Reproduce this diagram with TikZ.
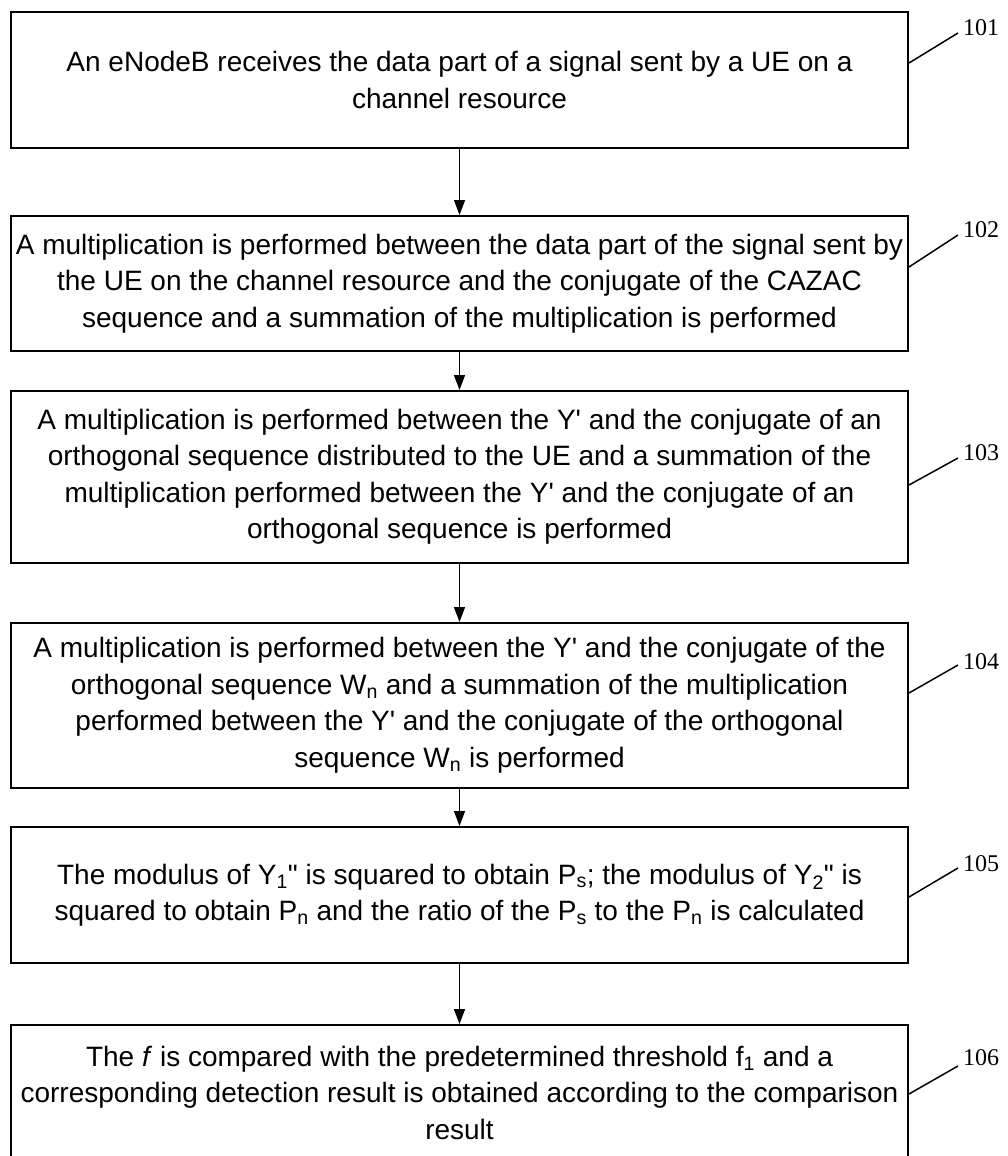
\documentclass[tikz,border=0pt]{standalone}
\usepackage{fontspec}
\setmainfont{Liberation Sans}
\newfontfamily\labfont{Liberation Serif}
\usetikzlibrary{arrows.meta}
\tikzset{
  stepbox/.style={draw, line width=2pt, minimum width=897pt, align=center, inner sep=0pt,
    font=\fontsize{28}{36.5}\selectfont},
  flow/.style={line width=1.5pt, -{Triangle[length=15pt,width=11pt]}},
  lead/.style={line width=1.5pt},
  lab/.style={anchor=west, inner sep=0pt, font=\labfont\fontsize{24}{24}\selectfont}
}
\newcommand{\q}{\textquotesingle}
\newcommand{\qq}{\textquotedbl}
\begin{document}
\begin{tikzpicture}[x=1pt,y=-1pt]
\useasboundingbox[fill=white] (0,0) rectangle (1008,1156);
\node[stepbox, minimum height=136pt] (b1) at (459.5,80) {An eNodeB receives the data part of a signal sent by a UE on a\\ channel resource};
\node[stepbox, minimum height=135pt] (b2) at (459.5,283.5) {A multiplication is performed between the data part of the signal sent by\\ the UE on the channel resource and the conjugate of the CAZAC\\ sequence and a summation of the multiplication is performed};
\node[stepbox, minimum height=172pt] (b3) at (459.5,477) {A multiplication is performed between the Y\q{} and the conjugate of an\\ orthogonal sequence distributed to the UE and a summation of the\\ multiplication performed between the Y\q{} and the conjugate of an\\ orthogonal sequence is performed};
\node[stepbox, minimum height=165pt] (b4) at (459.5,705.5) {A multiplication is performed between the Y\q{} and the conjugate of the\\ orthogonal sequence W\textsubscript{n} and a summation of the multiplication\\ performed between the Y\q{} and the conjugate of the orthogonal\\ sequence W\textsubscript{n} is performed};
\node[stepbox, minimum height=136pt] (b5) at (459.5,895) {The modulus of Y\textsubscript{1}\qq{} is squared to obtain P\textsubscript{s}; the modulus of Y\textsubscript{2}\qq{} is\\ squared to obtain P\textsubscript{n} and the ratio of the P\textsubscript{s} to the P\textsubscript{n} is calculated};
\node[stepbox, minimum height=135pt] (b6) at (459.5,1092.5) {The \textit{f} is compared with the predetermined threshold f\textsubscript{1} and a\\ corresponding detection result is obtained according to the comparison\\ result};
\draw[flow] (b1) -- (b2);
\draw[flow] (b2) -- (b3);
\draw[flow] (b3) -- (b4);
\draw[flow] (b4) -- (b5);
\draw[flow] (b5) -- (b6);
\node[lab] (n101) at (963,28) {101};
\node[lab] (n102) at (963,230) {102};
\node[lab] (n103) at (963,453) {103};
\node[lab] (n104) at (963,662) {104};
\node[lab] (n105) at (963,864) {105};
\node[lab] (n106) at (963,1058) {106};
\coordinate (t101) at (958,33);
\coordinate (t102) at (958,235);
\coordinate (t103) at (958,458);
\coordinate (t104) at (958,665);
\coordinate (t105) at (958,868);
\coordinate (t106) at (958,1066);
\draw[lead] ([yshift=17pt]b1.east) -- (t101);
\draw[lead] ([yshift=16.5pt]b2.east) -- (t102);
\draw[lead] ([yshift=-8pt]b3.east) -- (t103);
\draw[lead] ([yshift=12.5pt]b4.east) -- (t104);
\draw[lead] ([yshift=-2pt]b5.east) -- (t105);
\draw[lead] ([yshift=-1.5pt]b6.east) -- (t106);
\end{tikzpicture}
\end{document}
